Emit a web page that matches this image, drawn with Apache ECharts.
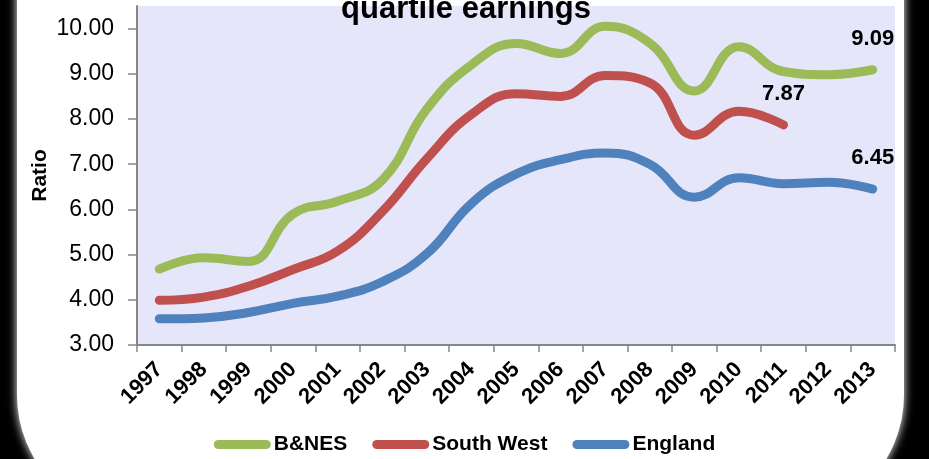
<!DOCTYPE html>
<html>
<head>
<meta charset="utf-8">
<script src="https://cdn.jsdelivr.net/npm/echarts@6/dist/echarts.min.js"></script>
<style>
  html, body { margin: 0; padding: 0; background: #000; }
  #chart { width: 929px; height: 459px; }
</style>
</head>
<body>
<div id="chart"></div>
<script>
const years = ['1997','1998','1999','2000','2001','2002','2003','2004','2005','2006','2007','2008','2009','2010','2011','2012','2013'];
const bnes = [4.68, 4.93, 4.85, 5.90, 6.18, 6.65, 8.22, 9.20, 9.67, 9.45, 10.05, 9.68, 8.62, 9.60, 9.05, 8.98, 9.09];
const southWest = [3.99, 4.06, 4.30, 4.67, 5.08, 5.95, 7.12, 8.10, 8.56, 8.50, 8.96, 8.80, 7.64, 8.17, 7.87];
const england = [3.58, 3.60, 3.72, 3.92, 4.08, 4.40, 5.02, 6.13, 6.78, 7.10, 7.25, 7.00, 6.27, 6.70, 6.57, 6.60, 6.45];
const yTicks = [3, 4, 5, 6, 7, 8, 9, 10];
const titleText = 'quartile earnings';
const yName = 'Ratio';

const FONT = "'Liberation Sans', Arial, sans-serif";

function withEndLabel(arr, color) {
  return arr.map((v, i) => i === arr.length - 1
    ? {
        value: v,
        symbol: 'circle',
        symbolSize: 4,
        itemStyle: { color: color },
        label: { show: true, formatter: (p) => Number(p.value).toFixed(2) }
      }
    : v);
}

function makeSeries(name, arr, color) {
  return {
    name: name,
    type: 'line',
    data: withEndLabel(arr, color),
    smooth: 0.45,
    showSymbol: true,
    symbol: 'none',
    lineStyle: { color: color, width: 9, cap: 'round', join: 'round' },
    itemStyle: { color: color },
    label: {
      show: false,
      position: 'top',
      distance: 18,
      color: '#000',
      fontFamily: FONT,
      fontWeight: 'bold',
      fontSize: 22
    },
    emphasis: { disabled: true },
    z: 3
  };
}

const chart = echarts.init(document.getElementById('chart'), null, { renderer: 'canvas' });
chart.setOption({
  backgroundColor: '#000',
  animation: false,
  textStyle: { fontFamily: FONT },
  graphic: [
    {
      type: 'rect',
      z: -100,
      silent: true,
      shape: { x: 17, y: -200, width: 887, height: 720, r: 125 },
      style: { fill: '#fff', shadowBlur: 10, shadowColor: '#fff' }
    },
    {
      type: 'text',
      z: 100,
      silent: true,
      style: {
        text: titleText,
        x: 466,
        y: 25,
        textAlign: 'center',
        textVerticalAlign: 'bottom',
        font: "bold 31px " + FONT,
        fill: '#000'
      }
    }
  ],
  grid: {
    left: 137, right: 34, top: 6, bottom: 114,
    show: true, backgroundColor: '#E6E6FA', borderWidth: 0
  },
  legend: {
    left: 'center',
    top: 429,
    itemWidth: 57,
    itemHeight: 9,
    itemGap: 25,
    icon: 'path://M4.5,0 H52.5 A4.5,4.5 0 0 1 52.5,9 H4.5 A4.5,4.5 0 0 1 4.5,0 Z',
    textStyle: { color: '#000', fontFamily: FONT, fontWeight: 'bold', fontSize: 21, padding: [0, 0, 0, -2] },
    data: ['B&NES', 'South West', 'England']
  },
  xAxis: {
    type: 'category',
    data: years,
    boundaryGap: true,
    axisLine: { lineStyle: { color: '#868686', width: 2 } },
    axisTick: { show: true, length: 7, alignWithLabel: false, interval: 0, lineStyle: { color: '#868686', width: 1.5 } },
    axisLabel: {
      interval: 0, rotate: 45, margin: 21,
      color: '#000', fontFamily: FONT, fontWeight: 'bold', fontSize: 22
    },
    splitLine: { show: false }
  },
  yAxis: {
    type: 'value',
    min: 3, max: 10.5, interval: 1,
    name: yName,
    nameLocation: 'middle',
    nameRotate: 90,
    nameGap: 86,
    nameMoveOverlap: false,
    nameTextStyle: { color: '#000', fontFamily: FONT, fontWeight: 'bold', fontSize: 21 },
    axisLine: { show: true, lineStyle: { color: '#868686', width: 2 } },
    axisTick: { show: true, length: 9, customValues: yTicks, lineStyle: { color: '#868686', width: 1.5 } },
    axisLabel: {
      customValues: yTicks,
      margin: 23,
      color: '#000', fontFamily: FONT, fontSize: 23,
      formatter: (v) => v.toFixed(2)
    },
    splitLine: { show: false }
  },
  series: [
    makeSeries('B&NES', bnes, '#9BBB59'),
    makeSeries('South West', southWest, '#C0504D'),
    makeSeries('England', england, '#4F81BD')
  ]
});
</script>
</body>
</html>
